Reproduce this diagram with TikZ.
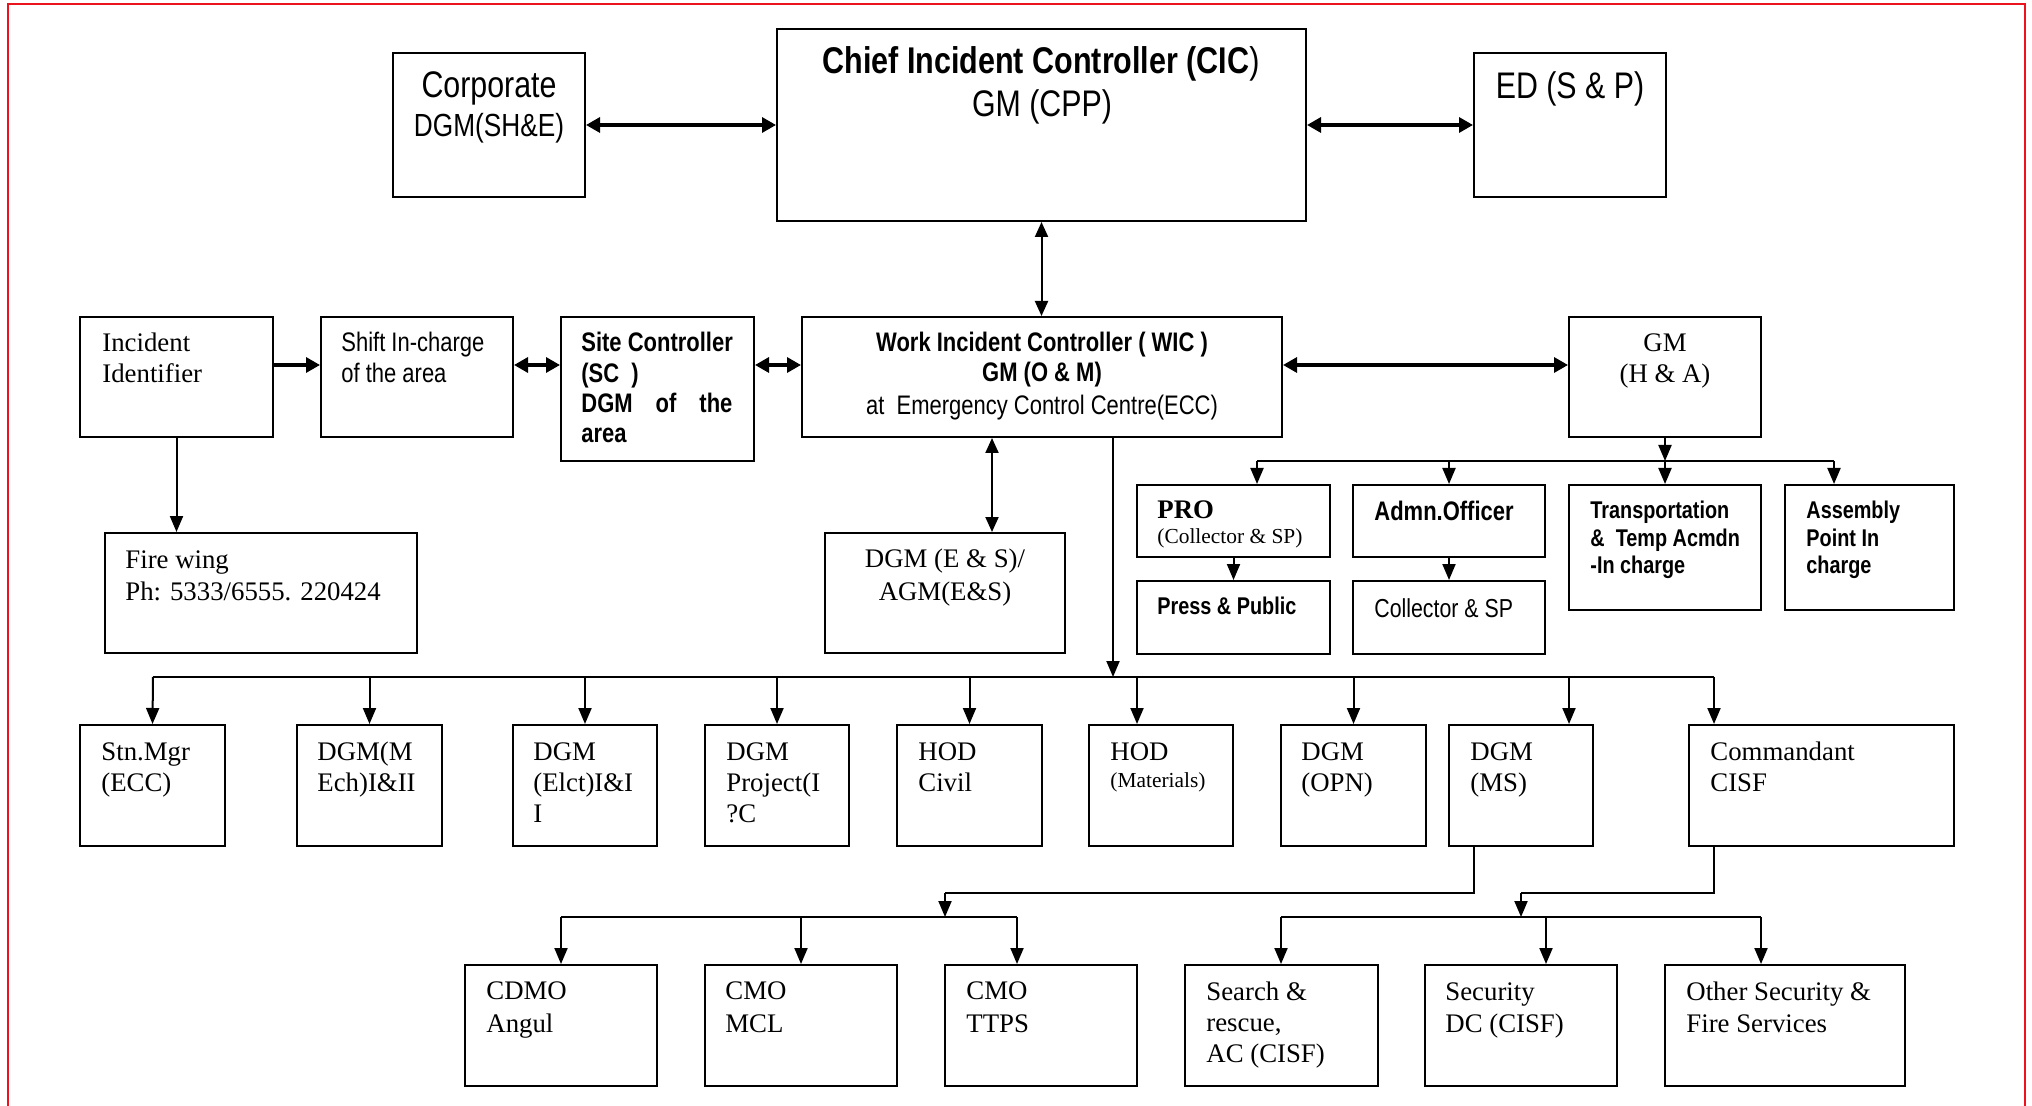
\documentclass[tikz,border=0pt]{standalone}
\usepackage{fontspec}
\setmainfont{Liberation Serif}
\newfontfamily\nar[FakeStretch=0.82]{Liberation Sans}
\usetikzlibrary{arrows.meta,fit}
\newcommand\fs[1]{\fontsize{#1}{#1}\selectfont}
\newcommand\bx[5]{\coordinate (#1-a) at (#2,#3); \coordinate (#1-b) at (#4,#5); \node[box, fit=(#1-a)(#1-b)] (#1) {};}
\newcommand\tl[5]{\node[#1,anchor=base west] (#2) at (#3,#4) {#5};}
\newcommand\tcn[5]{\node[#1,anchor=base] (#2) at (#3,#4) {#5};}
\begin{document}
\begin{tikzpicture}[x=0.5pt,y=-0.5pt,
  box/.style={draw, line width=1pt, inner sep=0pt, rectangle},
  ln/.style={line width=1pt, line join=miter},
  arr/.style={line width=1pt, -{Triangle[length=8pt,width=6.5pt]}},
  darr/.style={line width=1pt, {Triangle[length=7.5pt,width=6.5pt]}-{Triangle[length=7.5pt,width=6.5pt]}},
  tharr/.style={line width=1.6pt, {Triangle[length=7pt,width=7.5pt]}-{Triangle[length=7pt,width=7.5pt]}},
  thsarr/.style={line width=1.6pt, -{Triangle[length=7pt,width=7.5pt]}},
  tm/.style={font=\fs{13.4}, inner sep=0pt},
  tmb/.style={font=\bfseries\fs{13.4}, inner sep=0pt},
  tms/.style={font=\fs{10.7}, inner sep=0pt},
  sn/.style={font=\nar\fs{13.4}, inner sep=0pt},
  snb/.style={font=\nar\bfseries\fs{13.4}, inner sep=0pt},
  snbs/.style={font=\nar\bfseries\fs{12.1}, inner sep=0pt},
  snl/.style={font=\nar\fs{18.5}, inner sep=0pt}
]
\useasboundingbox (0,0) rectangle (2032,1106);
\draw[color={rgb,255:red,235;green,20;blue,30}, line width=1.2pt] (8,1130) -- (8,4) -- (2025,4) -- (2025,1130);

% boxes
\bx{corp}{393}{53}{585}{197}
\bx{cic}{777}{29}{1306}{221}
\bx{ed}{1474}{53}{1666}{197}
\bx{inc}{80}{317}{273}{437}
\bx{shift}{321}{317}{513}{437}
\bx{site}{561}{317}{754}{461}
\bx{wic}{802}{317}{1282}{437}
\bx{gmha}{1569}{317}{1761}{437}
\bx{fire}{105}{533}{417}{653}
\bx{dgmes}{825}{533}{1065}{653}
\bx{pro}{1137}{485}{1330}{557}
\bx{admn}{1353}{485}{1545}{557}
\bx{trans}{1569}{485}{1761}{610}
\bx{assem}{1785}{485}{1954}{610}
\bx{press}{1137}{581}{1330}{654}
\bx{coll}{1353}{581}{1545}{654}
\bx{stn}{80}{725}{225}{846}
\bx{mech}{297}{725}{442}{846}
\bx{elct}{513}{725}{657}{846}
\bx{proj}{705}{725}{849}{846}
\bx{civil}{897}{725}{1042}{846}
\bx{mat}{1089}{725}{1233}{846}
\bx{opn}{1281}{725}{1426}{846}
\bx{ms}{1449}{725}{1593}{846}
\bx{cisf}{1689}{725}{1954}{846}
\bx{cdmo}{465}{965}{657}{1086}
\bx{mcl}{705}{965}{897}{1086}
\bx{ttps}{945}{965}{1137}{1086}
\bx{search}{1185}{965}{1378}{1086}
\bx{secu}{1425}{965}{1617}{1086}
\bx{other}{1665}{965}{1905}{1086}

% helper coordinates
\coordinate (r2) at (0,365);
\coordinate (es) at (992,0);
\coordinate (wd) at (1113,0);
\coordinate (b1L) at (153,677);
\coordinate (b1R) at (1714,677);
\coordinate (tmat) at (1137,677);
\coordinate (tms) at (1569,677);
\coordinate (b2L) at (1257,461);
\coordinate (b2R) at (1834,461);
\coordinate (m1) at (1474,893);
\coordinate (m2) at (945,893);
\coordinate (b3L) at (561,917);
\coordinate (b3R) at (1017,917);
\coordinate (c1) at (1714,893);
\coordinate (c2) at (1521,893);
\coordinate (b4L) at (1281,917);
\coordinate (b4R) at (1761,917);
\coordinate (tsec) at (1546,917);

% connectors
\draw[tharr] (corp.east) -- (corp.east -| cic.west);
\draw[tharr] (cic.east |- ed.west) -- (ed.west);
\draw[darr] (cic.south) -- (cic.south |- wic.north);
\draw[thsarr] (inc.east |- r2) -- (shift.west |- r2);
\draw[tharr] (shift.east |- r2) -- (site.west |- r2);
\draw[tharr] (site.east |- r2) -- (wic.west |- r2);
\draw[tharr] (wic.east |- r2) -- (gmha.west |- r2);
\draw[arr] (inc.south) -- (inc.south |- fire.north);
\draw[darr] (wic.south -| es) -- (dgmes.north -| es);
\draw[arr] (wic.south -| wd) -- (b1L -| wd);
\draw[ln] (b1L) -- (b1R);
\draw[arr] (b1L) -- (stn.north);
\foreach \n in {mech,elct,proj,civil,opn} {\draw[arr] (\n.north |- b1L) -- (\n.north);}
\draw[arr] (tmat) -- (tmat |- mat.north);
\draw[arr] (tms) -- (tms |- ms.north);
\draw[arr] (b1R) -- (b1R |- cisf.north);
\draw[arr] (gmha.south) -- (gmha.south |- b2L);
\draw[ln] (b2L) -- (b2R);
\draw[arr] (b2L) -- (b2L |- pro.north);
\draw[arr] (admn.north |- b2L) -- (admn.north);
\draw[arr] (trans.north |- b2L) -- (trans.north);
\draw[arr] (b2R) -- (b2R |- assem.north);
\draw[arr] (pro.south) -- (press.north);
\draw[arr] (admn.south) -- (coll.north);
\draw[ln] (ms.south -| m1) -- (m1) -- (m2);
\draw[arr] (m2) -- (m2 |- b3L);
\draw[ln] (b3L) -- (b3R);
\draw[arr] (b3L) -- (cdmo.north);
\draw[arr] (mcl.north |- b3L) -- (mcl.north);
\draw[arr] (b3R) -- (b3R |- ttps.north);
\draw[ln] (cisf.south -| c1) -- (c1) -- (c2);
\draw[arr] (c2) -- (c2 |- b4L);
\draw[ln] (b4L) -- (b4R);
\draw[arr] (b4L) -- (b4L |- search.north);
\draw[arr] (tsec) -- (tsec |- secu.north);
\draw[arr] (b4R) -- (b4R |- other.north);

% texts
\tcn{snl}{t-corp1}{489}{98}{Corporate}
\tcn{sn,font=\nar\fs{16}}{t-corp2}{489}{137}{DGM(SH\&E)}
\tcn{snl,font=\nar\bfseries\fs{18.6}}{t-cic1}{1041}{74}{Chief Incident Controller (CIC\textmd{)}}
\tcn{snl}{t-cic2}{1042}{117}{GM (CPP)}
\tcn{snl}{t-ed}{1570}{99}{ED (S \& P)}
\tl{tm}{t-inc1}{102}{352}{Incident}
\tl{tm}{t-inc2}{102}{383}{Identifier}
\tl{sn}{t-sh1}{341}{352}{Shift In-charge}
\tl{sn}{t-sh2}{341}{383}{of the area}
\tl{snb}{t-si1}{581}{352}{Site Controller}
\tl{snb}{t-si2}{581}{383}{(SC\ \ )}
\tl{snb}{t-si3}{581}{413}{\makebox[75.5pt][s]{DGM\hfill of\hfill the}}
\tl{snb}{t-si4}{581}{443}{area}
\tcn{snb}{t-w1}{1042}{352}{Work Incident Controller ( WIC )}
\tcn{snb}{t-w2}{1042}{382}{GM (O \& M)}
\tcn{sn}{t-w3}{1042}{415}{at\ \ Emergency Control Centre(ECC)}
\tcn{tm}{t-gm1}{1665}{352}{GM}
\tcn{tm}{t-gm2}{1665}{383}{(H \& A)}
\tl{tm}{t-f1}{125}{568}{Fire wing}
\tl{tm}{t-f2}{125}{600}{Ph: 5333/6555. 220424}
\tcn{tm}{t-e1}{945}{567}{DGM (E \& S)/}
\tcn{tm}{t-e2}{945}{600}{AGM(E\&S)}
\tl{tmb}{t-pro1}{1157}{518}{PRO}
\tl{tms}{t-pro2}{1157}{543}{(Collector \& SP)}
\tl{snb}{t-ad}{1374}{520}{Admn.Officer}
\tl{snbs}{t-pr}{1157}{614}{Press \& Public}
\tl{sn,font=\nar\fs{13}}{t-co}{1374}{617}{Collector \& SP}
\tl{snbs}{t-tr1}{1590}{518}{Transportation}
\tl{snbs}{t-tr2}{1590}{546}{\&\ \ Temp Acmdn}
\tl{snbs}{t-tr3}{1590}{573}{-In charge}
\tl{snbs}{t-as1}{1806}{518}{Assembly}
\tl{snbs}{t-as2}{1806}{546}{Point In}
\tl{snbs}{t-as3}{1806}{573}{charge}
\tl{tm}{t-stn1}{101}{760}{Stn.Mgr}
\tl{tm}{t-stn2}{101}{791}{(ECC)}
\tl{tm}{t-me1}{317}{760}{DGM(M}
\tl{tm}{t-me2}{317}{791}{Ech)I\&II}
\tl{tm}{t-el1}{533}{760}{DGM}
\tl{tm}{t-el2}{533}{791}{(Elct)I\&I}
\tl{tm}{t-el3}{533}{822}{I}
\tl{tm}{t-pj1}{726}{760}{DGM}
\tl{tm}{t-pj2}{726}{791}{Project(I}
\tl{tm}{t-pj3}{726}{822}{?C}
\tl{tm}{t-cv1}{918}{760}{HOD}
\tl{tm}{t-cv2}{918}{791}{Civil}
\tl{tm}{t-mt1}{1110}{760}{HOD}
\tl{tms}{t-mt2}{1110}{787}{(Materials)}
\tl{tm}{t-op1}{1301}{760}{DGM}
\tl{tm}{t-op2}{1301}{791}{(OPN)}
\tl{tm}{t-ms1}{1470}{760}{DGM}
\tl{tm}{t-ms2}{1470}{791}{(MS)}
\tl{tm}{t-ci1}{1710}{760}{Commandant}
\tl{tm}{t-ci2}{1710}{791}{CISF}
\tl{tm}{t-cd1}{486}{999}{CDMO}
\tl{tm}{t-cd2}{486}{1032}{Angul}
\tl{tm}{t-mc1}{725}{999}{CMO}
\tl{tm}{t-mc2}{725}{1032}{MCL}
\tl{tm}{t-tt1}{966}{999}{CMO}
\tl{tm}{t-tt2}{966}{1032}{TTPS}
\tl{tm}{t-se1}{1206}{1000}{Search \&}
\tl{tm}{t-se2}{1206}{1031}{rescue,}
\tl{tm}{t-se3}{1206}{1062}{AC (CISF)}
\tl{tm}{t-sc1}{1445}{1000}{Security}
\tl{tm}{t-sc2}{1445}{1032}{DC (CISF)}
\tl{tm}{t-ot1}{1686}{1000}{Other Security \&}
\tl{tm}{t-ot2}{1686}{1032}{Fire Services}
\end{tikzpicture}
\end{document}
